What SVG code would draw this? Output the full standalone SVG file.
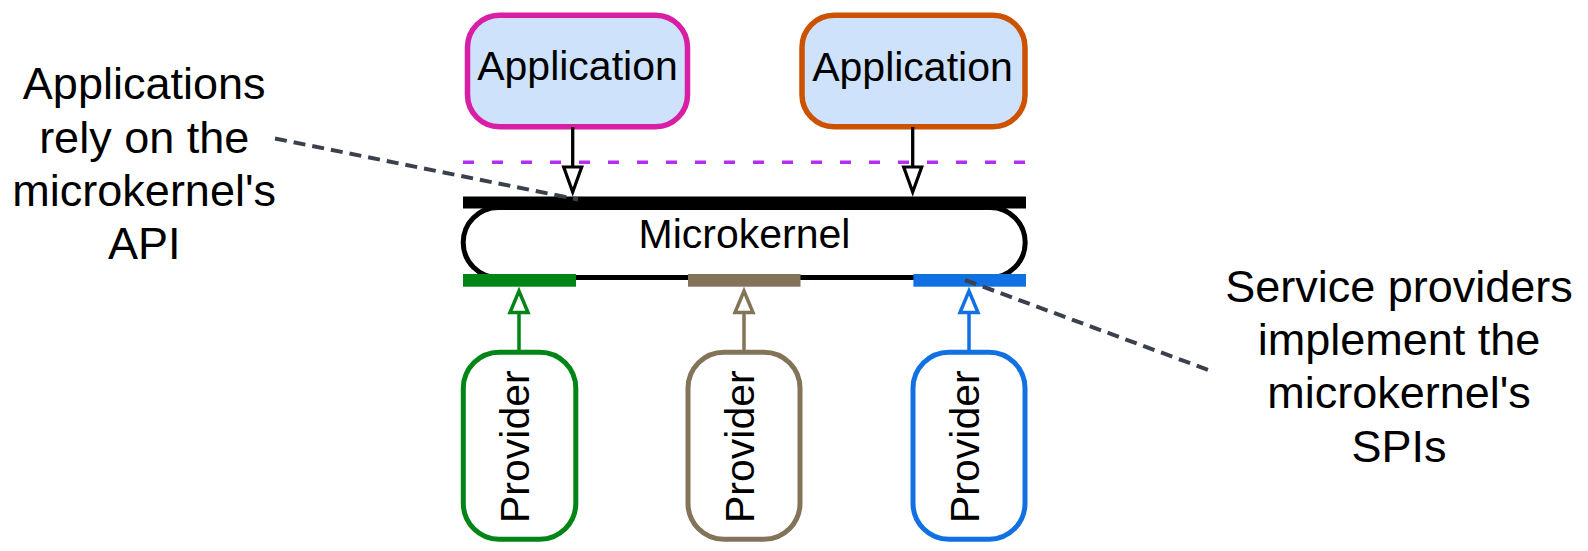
<svg xmlns="http://www.w3.org/2000/svg" width="1588" height="551" viewBox="0 0 1588 551">
<style>
text { font-family: "Liberation Sans", Arial, sans-serif; fill: #000; text-anchor: middle; }
.lbl { font-size: 41px; }
.note { font-size: 45px; }
.app { fill: #cfe2fb; stroke-width: 5.5; }
.prov { fill: #fff; stroke-width: 5; }
.head { fill: #fff; stroke-linejoin: miter; }
.dash { stroke: #3a414c; stroke-width: 4; stroke-dasharray: 12 7; fill: none; }
</style>

<g id="annotation-api">
  <text class="note"><tspan x="144.2" y="99.3">Applications</tspan><tspan x="144.2" dy="53.3">rely on the</tspan><tspan x="144.2" dy="53.3">microkernel's</tspan><tspan x="144.2" dy="53.3">API</tspan></text>
</g>
<g id="annotation-spi">
  <text class="note"><tspan x="1399" y="301.7">Service providers</tspan><tspan x="1399" dy="53.3">implement the</tspan><tspan x="1399" dy="53.3">microkernel's</tspan><tspan x="1399" dy="53.3">SPIs</tspan></text>
</g>

<g id="app1">
  <rect class="app" x="467.5" y="15.3" width="220" height="111.5" rx="32" stroke="#d91ea6"/>
  <text class="lbl" x="577.5" y="80">Application</text>
</g>
<g id="app2">
  <rect class="app" x="802" y="15.3" width="223" height="111.5" rx="32" stroke="#cc5200"/>
  <text class="lbl" x="912.5" y="80.5">Application</text>
</g>

<g id="api-boundary">
  <line x1="463" y1="162.3" x2="1026" y2="162.3" stroke="#b32ef0" stroke-width="3.4" stroke-dasharray="11 18"/>
</g>

<g id="microkernel">
  <rect x="463.2" y="207.5" width="562" height="70" rx="35" fill="#fff" stroke="#000" stroke-width="5"/>
  <rect x="463" y="196.5" width="563" height="12" fill="#000"/>
  <rect x="463" y="274" width="113" height="12.7" fill="#008516"/>
  <rect x="688" y="274" width="112.5" height="12.7" fill="#837459"/>
  <rect x="913.4" y="274" width="112.6" height="12.7" fill="#1271e2"/>
  <text class="lbl" x="744.5" y="248">Microkernel</text>
</g>

<g id="provider1">
  <rect class="prov" x="463.3" y="352.3" width="112.5" height="187" rx="36" stroke="#008516"/>
  <text class="lbl" transform="translate(529 446.7) rotate(-90)">Provider</text>
</g>
<g id="provider2">
  <rect class="prov" x="688" y="352.3" width="112" height="187" rx="36" stroke="#837459"/>
  <text class="lbl" transform="translate(753.5 446.7) rotate(-90)">Provider</text>
</g>
<g id="provider3">
  <rect class="prov" x="913" y="352.3" width="112" height="187" rx="36" stroke="#1271e2"/>
  <text class="lbl" transform="translate(978.5 446.7) rotate(-90)">Provider</text>
</g>

<g id="connectors">
  <line x1="572.7" y1="127" x2="572.7" y2="167" stroke="#000" stroke-width="3.3"/>
  <polygon class="head" points="563.7,167 581.7,167 572.7,192" stroke="#000" stroke-width="3.2"/>
  <line x1="912.7" y1="127" x2="912.7" y2="167" stroke="#000" stroke-width="3.3"/>
  <polygon class="head" points="903.7,167 921.7,167 912.7,192" stroke="#000" stroke-width="3.2"/>

  <line x1="519" y1="312.5" x2="519" y2="350" stroke="#008516" stroke-width="3.5"/>
  <polygon class="head" points="510,312.5 528,312.5 519,291" stroke="#008516" stroke-width="3.5"/>
  <line x1="744" y1="312.5" x2="744" y2="350" stroke="#837459" stroke-width="3.5"/>
  <polygon class="head" points="735,312.5 753,312.5 744,291" stroke="#837459" stroke-width="3.5"/>
  <line x1="969" y1="312.5" x2="969" y2="350" stroke="#1271e2" stroke-width="3.5"/>
  <polygon class="head" points="960,312.5 978,312.5 969,291" stroke="#1271e2" stroke-width="3.5"/>

  <line class="dash" x1="275" y1="138.5" x2="578" y2="199.5"/>
  <line class="dash" x1="965" y1="280" x2="1212.5" y2="371.5"/>
</g>
</svg>
